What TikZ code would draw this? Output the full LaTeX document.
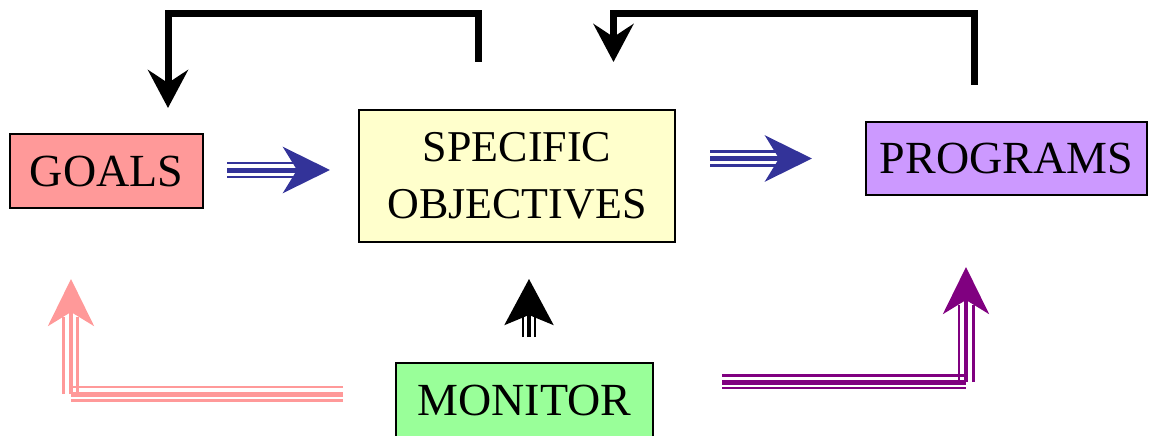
\documentclass[tikz,border=0pt]{standalone}
\usepackage{fontspec}
\setmainfont{Liberation Serif}
\usetikzlibrary{arrows.meta,calc}
\definecolor{goalfill}{HTML}{FF9999}
\definecolor{objfill}{HTML}{FFFFCC}
\definecolor{progfill}{HTML}{CC99FF}
\definecolor{monfill}{HTML}{99FF99}
\definecolor{flowblue}{HTML}{333399}
\definecolor{flowpink}{HTML}{FF9999}
\definecolor{flowpurple}{HTML}{800080}
\begin{document}
\begin{tikzpicture}[x=1pt,y=-1pt,
  box/.style={draw=black, line width=1.5pt, inner sep=0pt, align=center,
    font=\fontsize{46}{55}\selectfont},
  feedback/.style={draw=black, line width=7pt, line join=miter,
    -{Stealth[length=38pt,width=40pt,inset=13pt]}},
  thinline/.style={line width=2.7pt},
  thickline/.style={line width=5pt},
  bighead/.style={-{Stealth[length=47pt,width=46pt,inset=14pt]}},
  smallhead/.style={-{Stealth[length=46pt,width=49pt,inset=10pt]}}]
\useasboundingbox (0,0) rectangle (1163,436);

% boxes
\node[box, fill=goalfill, minimum width=193pt, minimum height=74pt] (goals) at (106.5,171) {GOALS};
\node[box, fill=objfill, minimum width=316pt, minimum height=132pt,
      font=\fontsize{44}{57}\selectfont] (obj) at (517,176) {SPECIFIC\\OBJECTIVES};
\node[box, fill=progfill, minimum width=281pt, minimum height=73pt] (prog) at (1006.5,158.5) {PROGRAMS};
\node[box, fill=monfill, minimum width=257pt, minimum height=74pt] (mon) at (524.5,400) {MONITOR};

% feedback loops along the top
\coordinate (fa) at (478,62);
\coordinate (fatop) at (168,13.5);
\coordinate (fae) at (168,108);
\draw[feedback] (fa) |- (fatop) -- (fae);

\coordinate (fb) at (974.5,85);
\coordinate (fbtop) at (613.5,13.5);
\coordinate (fbe) at (613.5,62);
\draw[feedback] (fb) |- (fbtop) -- (fbe);

% goals -> objectives
\coordinate (ba) at (227,170);
\coordinate (bae) at (330,170);
\begin{scope}[flowblue]
\draw[thinline] ($(ba)+(0,-7)$) -- ($(bae)+(-36,-7)$);
\draw[thinline] ($(ba)+(0,7)$) -- ($(bae)+(-36,7)$);
\draw[thickline, bighead] (ba) -- (bae);
\end{scope}

% objectives -> programs
\coordinate (bb) at (710,158.5);
\coordinate (bbe) at (812,158.5);
\begin{scope}[flowblue]
\draw[thinline] ($(bb)+(0,-7)$) -- ($(bbe)+(-36,-7)$);
\draw[thinline] ($(bb)+(0,7)$) -- ($(bbe)+(-36,7)$);
\draw[thickline, bighead] (bb) -- (bbe);
\end{scope}

% monitor -> goals
\coordinate (pk) at (343,394);
\coordinate (pkc) at (71,394);
\coordinate (pke) at (71,279);
\begin{scope}[flowpink]
\draw[thinline] ($(pk)+(0,-7)$) -- ($(pkc)+(0,-7)$);
\draw[thinline] ($(pk)+(0,6.5)$) -- ($(pkc)+(0,6.5)$);
\draw[thickline] (pk) -- (pkc);
\draw[thinline] ($(pkc)+(-7.5,0)$) -- ($(pke)+(-7.5,38)$);
\draw[thinline] ($(pkc)+(6.5,0)$) -- ($(pke)+(6.5,38)$);
\draw[line width=4pt, bighead] (pkc) -- (pke);
\end{scope}

% monitor -> programs
\coordinate (pp) at (722,382);
\coordinate (ppc) at (966,382);
\coordinate (ppe) at (966,267);
\begin{scope}[flowpurple]
\draw[thinline] ($(pp)+(0,-6.5)$) -- ($(ppc)+(-1,-6.5)$);
\draw[thinline] ($(pp)+(0,6)$) -- ($(ppc)+(0,6)$);
\draw[thickline] (pp) -- (ppc);
\draw[thinline] ($(ppc)+(-7,0)$) -- ($(ppe)+(-7,38)$);
\draw[thinline] ($(ppc)+(7.5,0)$) -- ($(ppe)+(7.5,38)$);
\draw[line width=4pt, bighead] (ppc) -- (ppe);
\end{scope}

% monitor -> objectives
\coordinate (mk) at (529,337);
\coordinate (mke) at (529,279);
\draw[black, thinline] ($(mk)+(-6,0)$) -- ($(mke)+(-6,36)$);
\draw[black, thinline] ($(mk)+(6,0)$) -- ($(mke)+(6,36)$);
\draw[black, line width=3.5pt, smallhead] (mk) -- (mke);
\end{tikzpicture}
\end{document}
